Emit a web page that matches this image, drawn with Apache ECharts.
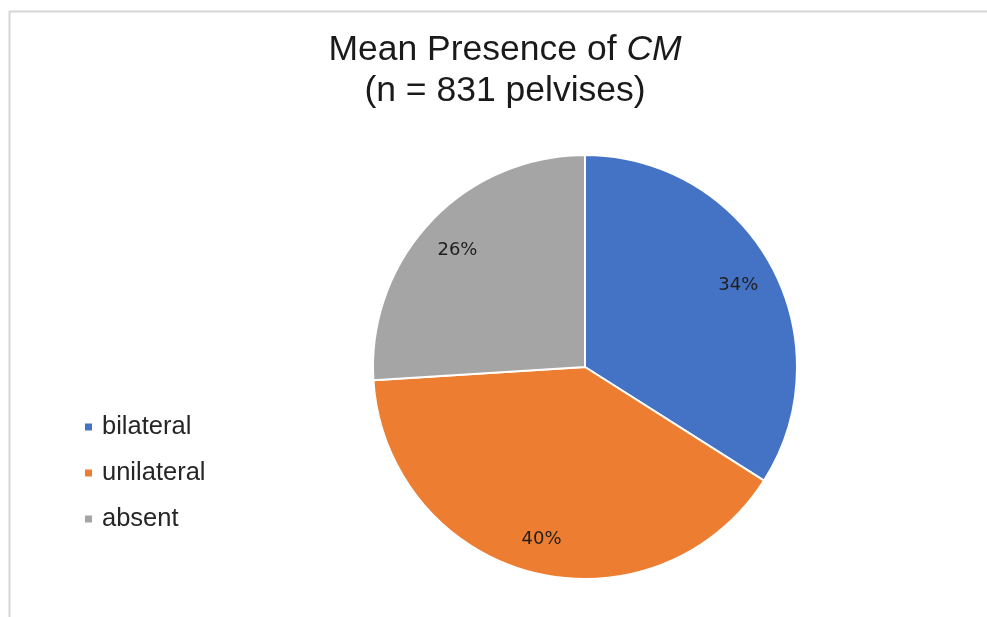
<!DOCTYPE html>
<html>
<head>
<meta charset="utf-8">
<script src="https://cdn.jsdelivr.net/npm/echarts@6/dist/echarts.min.js"></script>
<style>
html,body{margin:0;padding:0;background:#fff;}
#chart{width:987px;height:617px;}
</style>
</head>
<body>
<div id="chart"></div>
<script>
const categories = ['bilateral', 'unilateral', 'absent'];
const values = [34, 40, 26];
const colors = ['#4472C4', '#ED7D31', '#A5A5A5'];
const titleLine1 = 'Mean Presence of ';
const titleItalic = 'CM';
const titleLine2 = '(n = 831 pelvises)';

const pieData = categories.map((c, i) => ({ name: c, value: values[i], itemStyle: { color: colors[i] } }));

const chart = echarts.init(document.getElementById('chart'), null, { renderer: 'canvas' });
chart.setOption({
  animation: false,
  backgroundColor: '#ffffff',
  title: {
    text: '{a|' + titleLine1 + '}{b|' + titleItalic + '}\n{a|' + titleLine2 + '}',
    left: 505,
    top: 30,
    padding: 0,
    textAlign: 'center',
    textStyle: {
      fontWeight: 'normal',
      rich: {
        a: { fontFamily: 'Liberation Sans', fontSize: 35.5, fontWeight: 'normal', color: '#1a1a1a', lineHeight: 41 },
        b: { fontFamily: 'Liberation Sans', fontSize: 35.5, fontWeight: 'normal', color: '#1a1a1a', lineHeight: 41, fontStyle: 'italic' }
      }
    }
  },
  legend: {
    orient: 'vertical',
    left: 78,
    top: 409,
    data: categories,
    icon: 'rect',
    itemWidth: 9,
    itemHeight: 9,
    itemGap: 20,
    selectedMode: false,
    textStyle: {
      fontFamily: 'Liberation Sans',
      fontSize: 25.5,
      color: '#262626',
      lineHeight: 25,
      padding: [0, 0, 0, 4]
    }
  },
  graphic: [
    { type: 'line', shape: { x1: 9, y1: 11.5, x2: 987, y2: 11.5 }, style: { stroke: '#d6d6d6', lineWidth: 2 }, silent: true },
    { type: 'line', shape: { x1: 9.5, y1: 11, x2: 9.5, y2: 617 }, style: { stroke: '#d6d6d6', lineWidth: 2 }, silent: true }
  ],
  series: [
    {
      type: 'pie',
      center: [585, 367],
      radius: [0, 212],
      startAngle: 90,
      clockwise: true,
      data: pieData,
      label: { show: false },
      labelLine: { show: false },
      itemStyle: { borderColor: '#ffffff', borderWidth: 2 },
      emphasis: { disabled: true }
    },
    {
      type: 'pie',
      center: [585, 367],
      radius: [132, 212],
      startAngle: 90,
      clockwise: true,
      silent: true,
      data: categories.map((c, i) => ({ name: c, value: values[i] })),
      itemStyle: { color: 'rgba(0,0,0,0)' },
      label: {
        show: true,
        position: 'inside',
        formatter: '{c}%',
        fontFamily: 'DejaVu Sans',
        fontSize: 18,
        color: '#1f1f1f',
        offset: [0, 3]
      },
      labelLine: { show: false },
      emphasis: { disabled: true }
    }
  ]
});
</script>
</body>
</html>
